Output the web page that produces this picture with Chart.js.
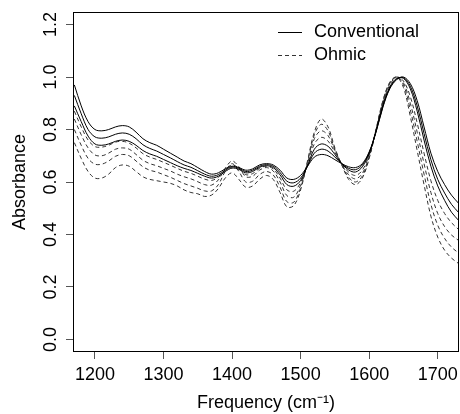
<!DOCTYPE html>
<html>
<head>
<meta charset="utf-8">
<script src="https://cdn.jsdelivr.net/npm/chart.js@4"></script>
<style>
  body { margin: 0; background: #fff; }
  canvas { display: block; }
</style>
</head>
<body>
<canvas id="grafico" width="460" height="414"></canvas>
<script>
// Frecuencias (cm-1), paso de 10
const frecuencias = [1170,1180,1190,1200,1210,1220,1230,1240,1250,1260,1270,1280,1290,1300,1310,1320,1330,1340,1350,1360,1370,1380,1390,1400,1410,1420,1430,1440,1450,1460,1470,1480,1490,1500,1510,1520,1530,1540,1550,1560,1570,1580,1590,1600,1610,1620,1630,1640,1650,1660,1670,1680,1690,1700,1710,1720,1730];

// Convencional (línea continua)
const conv1 = [0.97,0.89,0.83,0.80,0.795,0.80,0.81,0.815,0.81,0.79,0.765,0.75,0.74,0.725,0.71,0.695,0.68,0.67,0.655,0.64,0.63,0.635,0.65,0.66,0.655,0.645,0.65,0.665,0.67,0.665,0.645,0.615,0.61,0.625,0.66,0.695,0.705,0.70,0.685,0.67,0.658,0.655,0.67,0.715,0.79,0.885,0.955,0.99,1.0,0.975,0.91,0.81,0.71,0.64,0.59,0.55,0.52];
const conv2 = [0.93,0.86,0.80,0.772,0.767,0.772,0.782,0.787,0.782,0.765,0.742,0.728,0.718,0.705,0.692,0.678,0.665,0.656,0.643,0.63,0.622,0.628,0.645,0.657,0.652,0.64,0.645,0.66,0.666,0.66,0.636,0.603,0.597,0.615,0.66,0.71,0.725,0.718,0.695,0.67,0.652,0.647,0.665,0.712,0.792,0.888,0.958,0.992,0.998,0.965,0.89,0.785,0.685,0.61,0.558,0.515,0.485];
const conv3 = [0.89,0.83,0.775,0.745,0.74,0.745,0.755,0.76,0.755,0.74,0.72,0.707,0.698,0.686,0.674,0.662,0.652,0.644,0.633,0.622,0.615,0.622,0.64,0.653,0.648,0.635,0.64,0.656,0.662,0.655,0.627,0.59,0.584,0.606,0.662,0.725,0.745,0.736,0.705,0.67,0.646,0.638,0.658,0.708,0.795,0.893,0.962,0.995,0.995,0.955,0.87,0.76,0.66,0.585,0.53,0.485,0.455];

// Óhmico (línea discontinua)
const ohm1 = [0.87,0.81,0.76,0.735,0.733,0.74,0.752,0.755,0.748,0.73,0.708,0.695,0.686,0.675,0.664,0.652,0.641,0.633,0.622,0.611,0.606,0.618,0.645,0.665,0.652,0.628,0.632,0.652,0.66,0.65,0.615,0.57,0.565,0.598,0.665,0.745,0.77,0.756,0.713,0.668,0.638,0.625,0.645,0.703,0.797,0.90,0.97,1.0,0.985,0.925,0.825,0.71,0.605,0.53,0.48,0.445,0.42];
const ohm2 = [0.84,0.78,0.73,0.703,0.70,0.71,0.725,0.73,0.725,0.705,0.683,0.67,0.662,0.652,0.642,0.63,0.62,0.612,0.601,0.59,0.588,0.608,0.652,0.68,0.658,0.62,0.622,0.645,0.655,0.642,0.60,0.548,0.542,0.588,0.67,0.765,0.795,0.777,0.72,0.667,0.628,0.612,0.633,0.697,0.798,0.905,0.975,1.0,0.978,0.90,0.79,0.67,0.56,0.48,0.43,0.398,0.378];
const ohm3 = [0.80,0.74,0.69,0.668,0.668,0.68,0.698,0.705,0.70,0.68,0.658,0.645,0.638,0.628,0.618,0.606,0.594,0.585,0.576,0.566,0.566,0.59,0.64,0.67,0.64,0.60,0.603,0.628,0.64,0.627,0.58,0.525,0.523,0.578,0.675,0.78,0.82,0.795,0.725,0.666,0.618,0.60,0.623,0.693,0.80,0.908,0.978,1.0,0.97,0.875,0.755,0.63,0.515,0.435,0.385,0.352,0.33];
const ohm4 = [0.75,0.69,0.64,0.615,0.615,0.63,0.655,0.665,0.66,0.64,0.62,0.61,0.605,0.60,0.595,0.585,0.57,0.56,0.555,0.545,0.55,0.575,0.615,0.635,0.61,0.58,0.585,0.61,0.625,0.61,0.56,0.505,0.51,0.57,0.68,0.79,0.84,0.81,0.73,0.665,0.61,0.59,0.615,0.69,0.80,0.91,0.98,1.0,0.96,0.85,0.72,0.59,0.47,0.39,0.34,0.31,0.29];

const ticksX = [1200, 1300, 1400, 1500, 1600, 1700];
const ticksY = [0, 0.2, 0.4, 0.6, 0.8, 1.0, 1.2];
const etiquetas = ["Conventional", "Ohmic"];

const FUENTE = '"Liberation Sans", Arial, sans-serif';

function serie(valores, tipo) {
  return {
    label: etiquetas[tipo],
    data: frecuencias.map((f, i) => ({ x: f, y: valores[i] })),
    borderColor: tipo === 0 ? '#000' : '#333',
    borderWidth: 1,
    borderDash: tipo === 0 ? [] : [4, 3],
    pointRadius: 0,
    tension: 0.35,
    fill: false
  };
}

// Caja alrededor del área del gráfico + leyenda
const cajaLeyenda = {
  id: 'cajaLeyenda',
  afterDatasetsDraw(chart) {
    const ctx = chart.ctx;
    const ca = chart.chartArea;
    ctx.save();
    ctx.strokeStyle = '#000';
    ctx.lineWidth = 1;
    ctx.strokeRect(ca.left + 0.5, ca.top + 0.5, ca.right - ca.left - 1, ca.bottom - ca.top - 1);

    // leyenda
    ctx.font = '18px ' + FUENTE;
    ctx.fillStyle = '#000';
    ctx.textBaseline = 'middle';
    ctx.textAlign = 'left';
    etiquetas.forEach((txt, i) => {
      const y = ca.top + 20 + i * 23;
      ctx.beginPath();
      ctx.setLineDash(i === 0 ? [] : [4, 3]);
      ctx.strokeStyle = i === 0 ? '#000' : '#333';
      ctx.moveTo(ca.left + 205, y + 0.5);
      ctx.lineTo(ca.left + 229, y + 0.5);
      ctx.stroke();
      ctx.setLineDash([]);
      ctx.fillText(txt, ca.left + 241, y);
    });
    ctx.restore();
  }
};

new Chart(document.getElementById('grafico').getContext('2d'), {
  type: 'line',
  data: {
    datasets: [
      serie(conv1, 0), serie(conv2, 0), serie(conv3, 0),
      serie(ohm1, 1), serie(ohm2, 1), serie(ohm3, 1), serie(ohm4, 1)
    ]
  },
  options: {
    responsive: false,
    animation: false,
    layout: { padding: { top: 12, right: 1, left: 0, bottom: 0 } },
    plugins: { legend: { display: false }, tooltip: { enabled: false } },
    scales: {
      x: {
        type: 'linear',
        min: 1168,
        max: 1731,
        afterBuildTicks: s => { s.ticks = ticksX.map(v => ({ value: v })); },
        afterFit: s => { s.height = 62; s.paddingRight = 0; s.paddingLeft = 0; },
        border: { display: false },
        grid: { drawOnChartArea: false, tickLength: 7, color: '#555' },
        ticks: { color: '#000', padding: 5, font: { size: 18, family: FUENTE }, maxRotation: 0, autoSkip: false, callback: v => String(v) },
        title: { display: true, text: 'Frequency (cm\u207B\u00B9)', color: '#000', font: { size: 18, family: FUENTE }, padding: { top: 0, bottom: 0 } }
      },
      y: {
        min: -0.048,
        max: 1.248,
        afterBuildTicks: s => { s.ticks = ticksY.map(v => ({ value: v })); },
        afterFit: s => { s.width = 73; s.paddingTop = 0; s.paddingBottom = 0; },
        border: { display: false },
        grid: { drawOnChartArea: false, tickLength: 7, color: '#555' },
        ticks: {
          color: '#000', padding: 2, minRotation: 90, maxRotation: 90, crossAlign: 'center',
          font: { size: 18, family: FUENTE },
          callback: v => v.toFixed(1)
        },
        title: { display: true, text: 'Absorbance', color: '#000', font: { size: 18, family: FUENTE }, padding: { top: 9, bottom: 0 } }
      }
    }
  },
  plugins: [cajaLeyenda]
});
</script>
</body>
</html>
